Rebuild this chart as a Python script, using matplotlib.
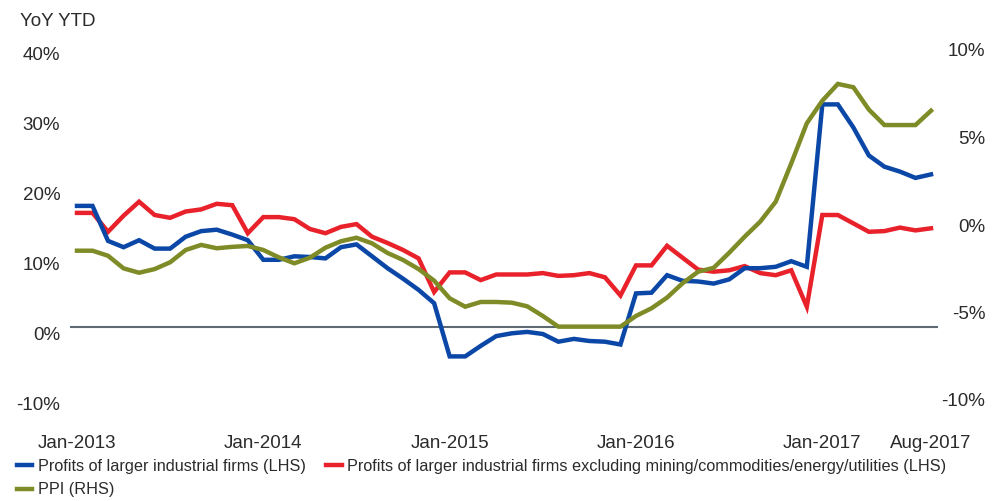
import numpy as np
import pandas as pd
import matplotlib.pyplot as plt
import matplotlib.transforms as mtransforms

# Monthly data, Jan-2013 .. Aug-2017 (YoY YTD, %)
months = pd.date_range('2013-01-01', '2017-08-01', freq='MS')

profits = [17.3, 17.3, 12.3, 11.4, 12.4, 11.2, 11.2, 12.9, 13.7, 13.9, 13.2, 12.4,
           9.6, 9.6, 10.1, 10.0, 9.8, 11.4, 11.8, 10.1, 8.4, 6.9, 5.3, 3.4,
           -4.2, -4.2, -2.7, -1.3, -0.9, -0.7, -1.0, -2.1, -1.7, -2.0, -2.1, -2.5,
           4.8, 4.9, 7.4, 6.6, 6.5, 6.2, 6.8, 8.4, 8.4, 8.6, 9.4, 8.6,
           31.8, 31.8, 28.5, 24.5, 22.9, 22.2, 21.3, 21.8]

profits_ex = [16.3, 16.3, 13.6, 15.9, 17.9, 16.0, 15.6, 16.5, 16.8, 17.6, 17.4, 13.4,
              15.7, 15.7, 15.4, 14.0, 13.4, 14.3, 14.7, 12.9, 12.0, 11.0, 9.8, 5.0,
              7.8, 7.8, 6.7, 7.5, 7.5, 7.5, 7.7, 7.3, 7.4, 7.7, 7.1, 4.5,
              8.8, 8.8, 11.6, 9.9, 8.2, 7.9, 8.1, 8.7, 7.7, 7.4, 8.1, 2.9,
              16.0, 16.0, 14.8, 13.6, 13.7, 14.2, 13.8, 14.1]

ppi = [-1.64, -1.64, -1.93, -2.65, -2.90, -2.69, -2.30, -1.60, -1.31, -1.50, -1.42, -1.37,
       -1.60, -2.02, -2.36, -2.04, -1.47, -1.10, -0.90, -1.22, -1.77, -2.17, -2.69, -3.35,
       -4.36, -4.84, -4.57, -4.57, -4.61, -4.82, -5.37, -5.98, -5.98, -5.98, -5.98, -5.98,
       -5.37, -4.93, -4.32, -3.50, -2.84, -2.62, -1.76, -0.84, 0.02, 1.16, 3.35, 5.64,
       6.93, 7.89, 7.70, 6.42, 5.54, 5.54, 5.54, 6.36]

xtick_pos = [0, 12, 24, 36, 48, 55]
xtick_labels = ['Jan-2013', 'Jan-2014', 'Jan-2015', 'Jan-2016', 'Jan-2017', 'Aug-2017']
left_ticks = [-10, 0, 10, 20, 30, 40]
right_ticks = [-10, -5, 0, 5, 10]

BLUE = '#0a47a6'
RED = '#e8212b'
OLIVE = '#7f8b26'
TXT = '#2b2b2b'

plt.rcParams['font.family'] = ['Liberation Sans', 'DejaVu Sans']

fig = plt.figure(figsize=(10.02, 5.01), dpi=100)
ax = fig.add_axes([70 / 1002, 104 / 501, 868 / 1002, 350 / 501])
ax2 = ax.twinx()

x = np.arange(len(months))
l1, = ax.plot(x, profits, color=BLUE, lw=3.2, solid_joinstyle='miter', zorder=4)
l2, = ax.plot(x, profits_ex, color=RED, lw=3.2, solid_joinstyle='miter', zorder=3)
l3, = ax2.plot(x, ppi, color=OLIVE, lw=3.2, solid_joinstyle='miter', zorder=2)
ax.axhline(0, color='#5d6a74', lw=1.5, zorder=1)

ax.set_xlim(-0.45, 55.45)
ax.set_ylim(-10, 40)
ax2.set_ylim(-10, 10)

for a in (ax, ax2):
    for s in a.spines.values():
        s.set_visible(False)
    a.tick_params(length=0, labelsize=13.5, labelcolor=TXT)

ax.set_xticks(xtick_pos)
ax.set_xticklabels(xtick_labels)
ax.tick_params(axis='x', pad=27)
ax.set_yticks(left_ticks)
ax.set_yticklabels([f'{v}%' for v in left_ticks])
ax.tick_params(axis='y', pad=7)
ax2.set_yticks(right_ticks)
ax2.set_yticklabels([f'{v}%' for v in right_ticks])
ax2.tick_params(axis='y', pad=34)
for t in ax2.get_yticklabels():
    t.set_horizontalalignment('right')

# labels in the original sit a little below their gridline positions
shift_l = mtransforms.ScaledTranslation(0, -6 / 100, fig.dpi_scale_trans)
shift_r = mtransforms.ScaledTranslation(0, -3 / 100, fig.dpi_scale_trans)
for t in ax.get_yticklabels():
    t.set_transform(t.get_transform() + shift_l)
for t in ax2.get_yticklabels():
    t.set_transform(t.get_transform() + shift_r)

fig.text(20 / 1002, 1 - 22 / 501, 'YoY YTD', fontsize=13.5, color=TXT, va='center', ha='left')

leg = fig.legend([l1, l3, l2],
                 ['Profits of larger industrial firms (LHS)', 'PPI (RHS)',
                  'Profits of larger industrial firms excluding mining/commodities/energy/utilities (LHS)'],
                 ncol=2, loc='upper left', bbox_to_anchor=(17 / 1002, 1 - 459 / 501),
                 frameon=False, fontsize=11.7, handlelength=0.95, handletextpad=0.35,
                 columnspacing=1.25, labelspacing=0.52, borderaxespad=0, borderpad=0)
for t in leg.get_texts():
    t.set_color(TXT)

fig.savefig('out.png', dpi=100)
